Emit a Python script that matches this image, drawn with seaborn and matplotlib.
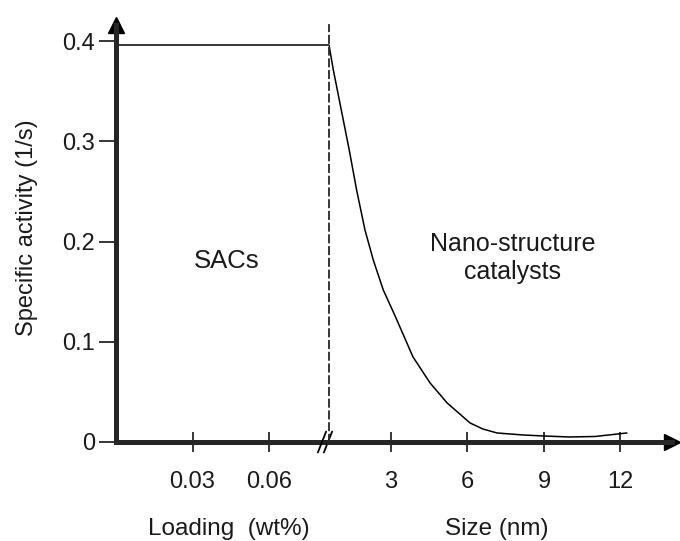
import matplotlib
matplotlib.use("Agg")
import matplotlib.pyplot as plt
import matplotlib.transforms as mtransforms
import seaborn as sns
import pandas as pd

# values
loading_wt = [0.0, 0.0835]
loading_activity = [0.396, 0.396]

size_nm = [0.57, 0.74, 1.365, 1.655, 1.98, 2.306, 2.698, 3.157, 3.86, 4.53,
           5.20, 6.1, 6.6, 7.16, 8.18, 9.0, 10.0, 11.0, 12.25]
size_activity = [0.396, 0.371, 0.291, 0.251, 0.2115, 0.1815, 0.1516, 0.126,
                 0.085, 0.059, 0.039, 0.019, 0.013, 0.009, 0.007, 0.006,
                 0.005, 0.0055, 0.009]

y_ticks = [0, 0.1, 0.2, 0.3, 0.4]
y_tick_labels = ["0", "0.1", "0.2", "0.3", "0.4"]
loading_ticks = [0.03, 0.06]
loading_tick_labels = ["0.03", "0.06"]
size_ticks = [3, 6, 9, 12]
size_tick_labels = ["3", "6", "9", "12"]

sns.set_theme(style="ticks")
plt.rcParams["font.family"] = ["Liberation Sans", "DejaVu Sans"]

df_load = pd.DataFrame({"Loading": loading_wt, "Activity": loading_activity})
df_size = pd.DataFrame({"Size": size_nm, "Activity": size_activity})

fig = plt.figure(figsize=(6.8, 5.41), dpi=100)
ax_l = fig.add_axes([116 / 680, 99 / 541, 213 / 680, 417 / 541])
ax_r = fig.add_axes([329 / 680, 99 / 541, 343 / 680, 417 / 541])

sns.lineplot(data=df_load, x="Loading", y="Activity", ax=ax_l,
             color="black", linewidth=1.1)
sns.lineplot(data=df_size, x="Size", y="Activity", ax=ax_r,
             color="black", linewidth=1.1)

txt = "#1a1a1a"
for ax in (ax_l, ax_r):
    ax.set_ylim(0, 0.416)
    ax.patch.set_alpha(0)
    ax.spines["top"].set_visible(False)
    ax.spines["right"].set_visible(False)
    ax.spines["bottom"].set_linewidth(3.6)
    ax.tick_params(axis="x", direction="inout", length=14, width=1.1,
                   labelsize=17, pad=14, color="black", labelcolor=txt)

ax_l.set_xlim(0, 0.0835)
ax_r.set_xlim(0.569, 14.02)

ax_l.spines["left"].set_linewidth(3.6)
ax_l.set_yticks(y_ticks)
ax_l.set_yticklabels(y_tick_labels)
ax_l.tick_params(axis="y", direction="out", length=12, width=1.1,
                 labelsize=17, pad=3, color="black", labelcolor=txt)
ax_l.set_xticks(loading_ticks)
ax_l.set_xticklabels(loading_tick_labels)

ax_r.spines["left"].set_linestyle((0, (4, 2.5)))
ax_r.spines["left"].set_linewidth(1.3)
ax_r.set_yticks([])
ax_r.set_ylabel("")
ax_r.set_xticks(size_ticks)
ax_r.set_xticklabels(size_tick_labels)

ax_l.set_ylabel("Specific activity (1/s)", fontsize=17, color=txt)
ax_l.yaxis.set_label_coords(-0.365, 0.513)
ax_l.set_xlabel("Loading  (wt%)", fontsize=17.5, color=txt)
ax_r.set_xlabel("Size (nm)", fontsize=17.5, color=txt)
ax_l.xaxis.set_label_coords(0.53, -0.183)
ax_r.xaxis.set_label_coords(0.488, -0.183)

# arrow heads
ax_l.plot(0, 1, marker="^", color="black", markersize=11,
          transform=ax_l.transAxes, clip_on=False)
ax_r.plot(1, 0, marker=">", color="black", markersize=11,
          transform=ax_r.transAxes, clip_on=False)

# axis break marks
for dx in (-7, -1):
    off = mtransforms.ScaledTranslation(dx / 100, 0, fig.dpi_scale_trans)
    ax_r.plot([-0.012, 0.012], [-0.025, 0.025], color="black", linewidth=1.3,
              transform=ax_r.transAxes + off, clip_on=False)

ax_l.text(0.0435, 0.1805, "SACs", fontsize=18.5, ha="center", va="center",
          color=txt)
ax_r.text(7.78, 0.1835, "Nano-structure\ncatalysts", fontsize=18,
          ha="center", va="center", color=txt, linespacing=1.2)

fig.savefig("out.png", dpi=100)
